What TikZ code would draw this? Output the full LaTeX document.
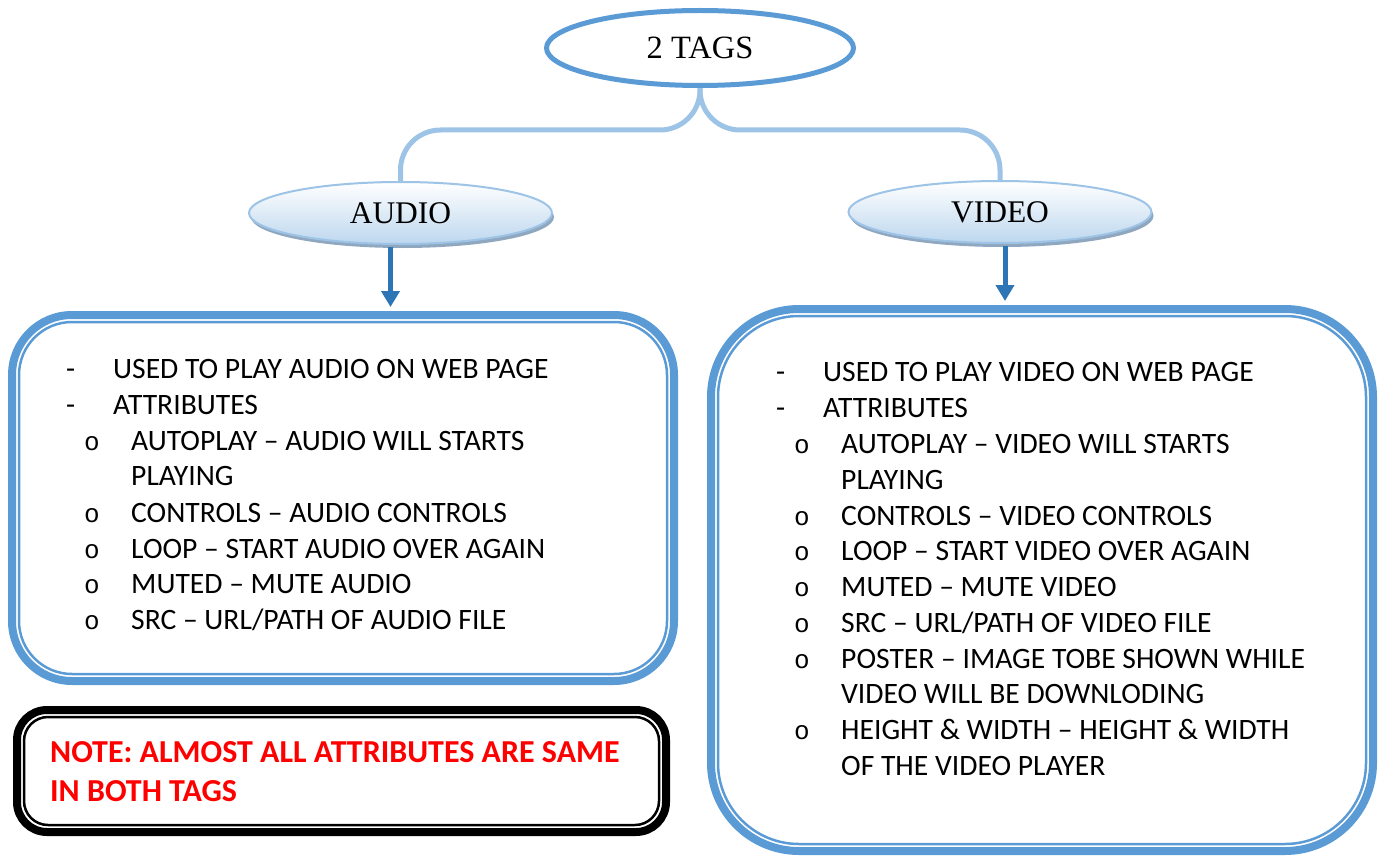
\documentclass[tikz,border=0pt]{standalone}
\usepackage{fontspec}
\setmainfont{Liberation Serif}
\newfontfamily\bodyfont{Carlito}
\newfontfamily\bulletfont{Liberation Mono}
\usetikzlibrary{shapes.geometric,arrows.meta,shadows,backgrounds}

\definecolor{boxblue}{HTML}{5B9BD5}
\definecolor{connblue}{HTML}{9DC3E6}
\definecolor{arrblue}{HTML}{2E75B6}
\definecolor{ellfill}{HTML}{BDD7EE}
\definecolor{shadowc}{HTML}{8FA8C0}
\definecolor{notered}{HTML}{FF0000}

\tikzset{
  bodytext/.style={anchor=base west, inner sep=0pt, font=\bodyfont\fontsize{29.6}{36}\selectfont},
  bul/.style={anchor=base west, inner sep=0pt, font=\bulletfont\fontsize{26}{36}\selectfont},
  notetext/.style={anchor=base west, inner sep=0pt, text=notered, font=\bodyfont\bfseries\fontsize{32}{36}\selectfont},
  tagell/.style={ellipse, draw=boxblue, fill=white, line width=5pt, inner sep=0pt, font=\fontsize{32.5}{36}\selectfont},
  subell/.style={ellipse, draw=connblue, line width=2pt, top color=white, bottom color=ellfill, inner sep=0pt,
    drop shadow={shadow xshift=2pt, shadow yshift=-4pt, fill=shadowc, opacity=1},
    font=\fontsize{31.5}{36}\selectfont},
  conn/.style={draw=connblue, line width=5pt, rounded corners=40pt},
  arr/.style={draw=arrblue, line width=5pt, -{Triangle[width=18pt,length=16pt]}},
  outerbox/.style={rectangle, draw=boxblue, line width=8pt, inner sep=0pt},
  innerbox/.style={rectangle, draw=boxblue, line width=2.5pt, inner sep=0pt},
  noteouter/.style={rectangle, draw=black, line width=8pt, inner sep=0pt, rounded corners=30pt},
  noteinner/.style={rectangle, draw=black, line width=2.5pt, inner sep=0pt, rounded corners=24pt},
}

\begin{document}
\begin{tikzpicture}[x=1pt,y=-1pt]
\useasboundingbox (0,0) rectangle (1383,856);

% boxes
\node[outerbox, rounded corners=60pt, minimum width=662pt, minimum height=366pt] (audiobox) at (343,498) {};
\node[innerbox, rounded corners=53pt, minimum width=648pt, minimum height=352pt] (audioinner) at (343,498) {};
\node[outerbox, rounded corners=88pt, minimum width=662pt, minimum height=542pt] (videobox) at (1042,580) {};
\node[innerbox, rounded corners=81pt, minimum width=648pt, minimum height=528pt] (videoinner) at (1042,580) {};
\node[noteouter, minimum width=649pt, minimum height=122pt] (notebox) at (341.5,771) {};
\node[noteinner, minimum width=635pt, minimum height=108pt] (noteinnerbox) at (341.5,771) {};

% ellipses
\node[tagell, minimum width=307pt, minimum height=75pt] (tags) at (700,48) {2 TAGS};
\node[subell, minimum width=303pt, minimum height=62pt] (audio) at (400.5,213) {AUDIO};
\node[subell, minimum width=303pt, minimum height=62pt] (video) at (1000,212) {VIDEO};

% connectors
\begin{scope}[on background layer]
\draw[conn] (tags.south) -- (tags.south |- 0,130) -| (audio.north);
\draw[conn] (tags.south) -- (tags.south |- 0,130) -| (video.north);
\end{scope}

% arrows
\draw[arr] ([xshift=-10pt,yshift=-2pt]audio.south) -- ([xshift=-10pt,yshift=4pt]audio.south |- audiobox.north);
\draw[arr] ([xshift=5pt,yshift=-2pt]video.south) -- ([xshift=5pt,yshift=4pt]video.south |- videobox.north);

% audio text
\node[bodytext] (a1d) at (66,378) {-};
\node[bodytext] (a1) at (113,378) {USED TO PLAY AUDIO ON WEB PAGE};
\node[bodytext] (a2d) at (66,414) {-};
\node[bodytext] (a2) at (113,414) {ATTRIBUTES};
\node[bul] (a3o) at (84,450) {o};
\node[bodytext] (a3) at (131,450) {AUTOPLAY – AUDIO WILL STARTS};
\node[bodytext] (a3b) at (131,485) {PLAYING};
\node[bul] (a4o) at (84,522) {o};
\node[bodytext] (a4) at (131,522) {CONTROLS – AUDIO CONTROLS};
\node[bul] (a5o) at (84,558) {o};
\node[bodytext] (a5) at (131,558) {LOOP – START AUDIO OVER AGAIN};
\node[bul] (a6o) at (84,593) {o};
\node[bodytext] (a6) at (131,593) {MUTED – MUTE AUDIO};
\node[bul] (a7o) at (84,629) {o};
\node[bodytext] (a7) at (131,629) {SRC – URL/PATH OF AUDIO FILE};

% video text
\node[bodytext] (v1d) at (776,381) {-};
\node[bodytext] (v1) at (823,381) {USED TO PLAY VIDEO ON WEB PAGE};
\node[bodytext] (v2d) at (776,417) {-};
\node[bodytext] (v2) at (823,417) {ATTRIBUTES};
\node[bul] (v3o) at (794,453) {o};
\node[bodytext] (v3) at (841,453) {AUTOPLAY – VIDEO WILL STARTS};
\node[bodytext] (v3b) at (841,489) {PLAYING};
\node[bul] (v4o) at (794,525) {o};
\node[bodytext] (v4) at (841,525) {CONTROLS – VIDEO CONTROLS};
\node[bul] (v5o) at (794,560) {o};
\node[bodytext] (v5) at (841,560) {LOOP – START VIDEO OVER AGAIN};
\node[bul] (v6o) at (794,596) {o};
\node[bodytext] (v6) at (841,596) {MUTED – MUTE VIDEO};
\node[bul] (v7o) at (794,632) {o};
\node[bodytext] (v7) at (841,632) {SRC – URL/PATH OF VIDEO FILE};
\node[bul] (v8o) at (794,668) {o};
\node[bodytext] (v8) at (841,668) {POSTER – IMAGE TOBE SHOWN WHILE};
\node[bodytext] (v8b) at (841,703) {VIDEO WILL BE DOWNLODING};
\node[bul] (v9o) at (794,739) {o};
\node[bodytext] (v9) at (841,739) {HEIGHT \& WIDTH – HEIGHT \& WIDTH};
\node[bodytext] (v9b) at (841,775) {OF THE VIDEO PLAYER};

% note
\node[notetext] (n1) at (50,762) {NOTE: ALMOST ALL ATTRIBUTES ARE SAME};
\node[notetext] (n2) at (50,801) {IN BOTH TAGS};
\end{tikzpicture}
\end{document}
